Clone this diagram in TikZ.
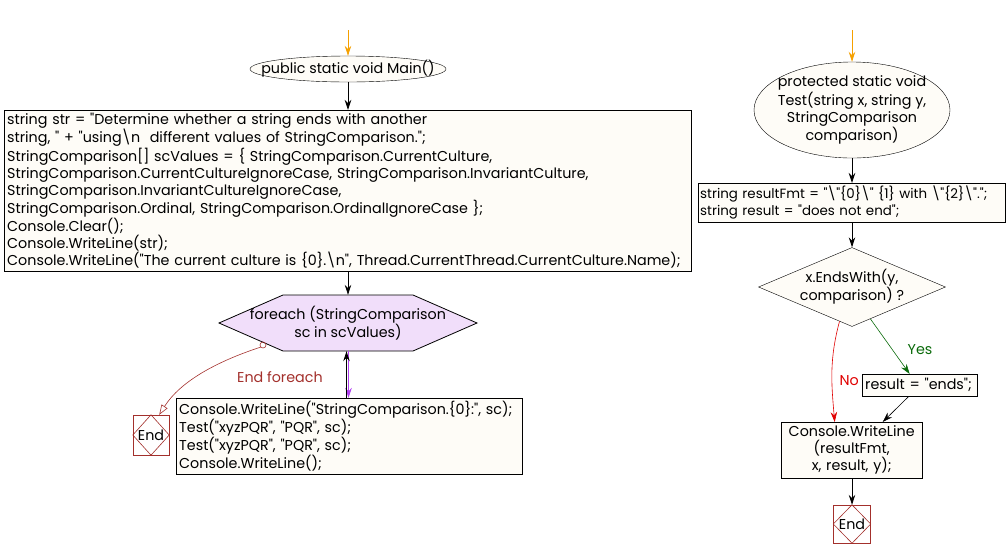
\documentclass[tikz,border=0pt]{standalone}
\usepackage{fontspec}
\setmainfont{Poppins}[Ligatures=TeXOff]
\usetikzlibrary{shapes.geometric,arrows.meta,positioning,calc}

\definecolor{cream}{HTML}{FEFCF7}
\definecolor{lavender}{HTML}{F1DEFA}
\definecolor{endred}{HTML}{A3302C}
\definecolor{startorange}{HTML}{F5A000}
\definecolor{yesgreen}{HTML}{0A6A0A}
\definecolor{nored}{HTML}{E00000}
\definecolor{looppurple}{HTML}{B040F0}

\begin{document}
\begin{tikzpicture}[x=1pt, y=-1pt,
    code/.style={font=\fontsize{14.3}{17}\selectfont},
    box/.style={code, draw=black, fill=cream, align=left, inner sep=3pt, anchor=north west},
    startnode/.style={code, ellipse, draw=black, fill=cream, align=center, inner ysep=0pt},
    endbox/.style={code, draw=endred, fill=white, minimum width=37pt, minimum height=38pt, inner sep=0pt},
    arrow/.style={-{Stealth[length=10pt, width=6.5pt]}, line width=0.8pt, black},
    label/.style={code}
]
\useasboundingbox (0,0) rectangle (1007,558);

% === Main ===
\coordinate (mstart) at (348,30);
\node[startnode, inner xsep=-22pt, minimum width=196pt, minimum height=26pt] (main) at (348,69) {public static void Main()};

\node[box, text width=681pt, minimum height=160pt] (init) at (4,110) {string str = "Determine whether a string ends with another\\
string, " + "using\textbackslash n\ \ different values of StringComparison.";\\
StringComparison[] scValues = \{ StringComparison.CurrentCulture,\\
StringComparison.CurrentCultureIgnoreCase, StringComparison.InvariantCulture,\\
StringComparison.InvariantCultureIgnoreCase,\\
StringComparison.Ordinal, StringComparison.OrdinalIgnoreCase \};\\
Console.Clear();\\
Console.WriteLine(str);\\
Console.WriteLine("The current culture is \{0\}.\textbackslash n", Thread.CurrentThread.CurrentCulture.Name);};

% foreach hexagon
\draw[line width=0.8pt, fill=lavender] (219,323) -- (283,295) -- (413,295) -- (477,323) -- (413,351) -- (283,351) -- cycle;
\node[code, align=center, minimum width=258pt, minimum height=56pt, inner sep=0pt] (loop) at (348,323) {foreach (StringComparison\\sc in scValues)};

\node[box, text width=340pt, minimum height=72pt] (body) at (176,398) {Console.WriteLine("StringComparison.\{0\}:", sc);\\
Test("xyzPQR", "PQR", sc);\\
Test("xyzPQR", "PQR", sc);\\
Console.WriteLine();};

\node[endbox, minimum height=40pt, minimum width=36pt] (endl) at (151,435) {End};
\draw[endred, line width=0.6pt] (endl.north) -- (endl.east) -- (endl.south) -- (endl.west) -- cycle;

% Arrows
\draw[arrow, startorange] (mstart) -- (main.north);
\draw[arrow] (main.south) -- (main.south |- init.north);
\draw[arrow] (init.south -| loop.north) -- (loop.north);
\draw[arrow, looppurple] ([xshift=0.5pt]loop.south) -- ([xshift=0.5pt]loop.south |- body.north);
\draw[arrow] ([xshift=-1.5pt]loop.south |- body.north) -- ([xshift=-1.5pt]loop.south);
\draw[endred, line width=0.6pt] (263,345) circle (3pt);
\draw[-{Triangle[open, length=10pt, width=7pt]}, endred, line width=0.6pt] (261,347) .. controls (215,362) and (180,382) .. node[pos=0.1, anchor=north west, xshift=-14pt, yshift=-16pt, label, endred] {End foreach} ([xshift=-10pt]endl.north east);

% === Test ===
\coordinate (tstart) at (852,30);
\node[startnode, inner xsep=-10pt, minimum width=196pt, minimum height=95pt] (test) at (852,110) {protected static void\\Test(string x, string y,\\StringComparison\\comparison)};

\node[box, font=\fontsize{13.4}{17}\selectfont, inner xsep=2pt, text width=303pt, minimum height=39pt] (fmt) at (698,183) {string resultFmt = "\textbackslash"\{0\}\textbackslash" \{1\} with \textbackslash"\{2\}\textbackslash".";\\
string result = "does not end";};

\node[code, diamond, draw=black, fill=cream, align=center, inner sep=-4pt, aspect=2.37, minimum width=187pt, minimum height=79pt] (cond) at (852,287) {x.EndsWith(y,\\comparison) ?};

\node[box, text width=109pt, minimum height=22pt] (res) at (862,374) {result = "ends";};

\node[box, align=center, text width=135pt, minimum height=56pt] (out) at (781,422) {Console.WriteLine\\(resultFmt,\\x, result, y);};

\node[endbox] (endr) at (852,524) {End};
\draw[endred, line width=0.6pt] (endr.north) -- (endr.east) -- (endr.south) -- (endr.west) -- cycle;

% Arrows
\draw[arrow, startorange] (tstart) -- (test.north);
\draw[arrow] (test.south) -- (test.south |- fmt.north);
\draw[arrow] (fmt.south -| cond.north) -- (cond.north);
\draw[arrow, yesgreen, line width=0.6pt] (cond.-60) -- node[pos=0.55, right=12pt, label, yesgreen] {Yes} ([xshift=-10pt]res.north);
\draw[arrow, nored, line width=0.6pt] (cond.-110) to[out=-105, in=95] node[pos=0.6, right=4pt, label, nored] {No} ([xshift=-17pt]out.north);
\draw[arrow, line width=0.6pt] ([xshift=-11pt]res.south) -- ([xshift=31pt]out.north);
\draw[arrow] (out.south -| endr.north) -- (endr.north);

\end{tikzpicture}
\end{document}
